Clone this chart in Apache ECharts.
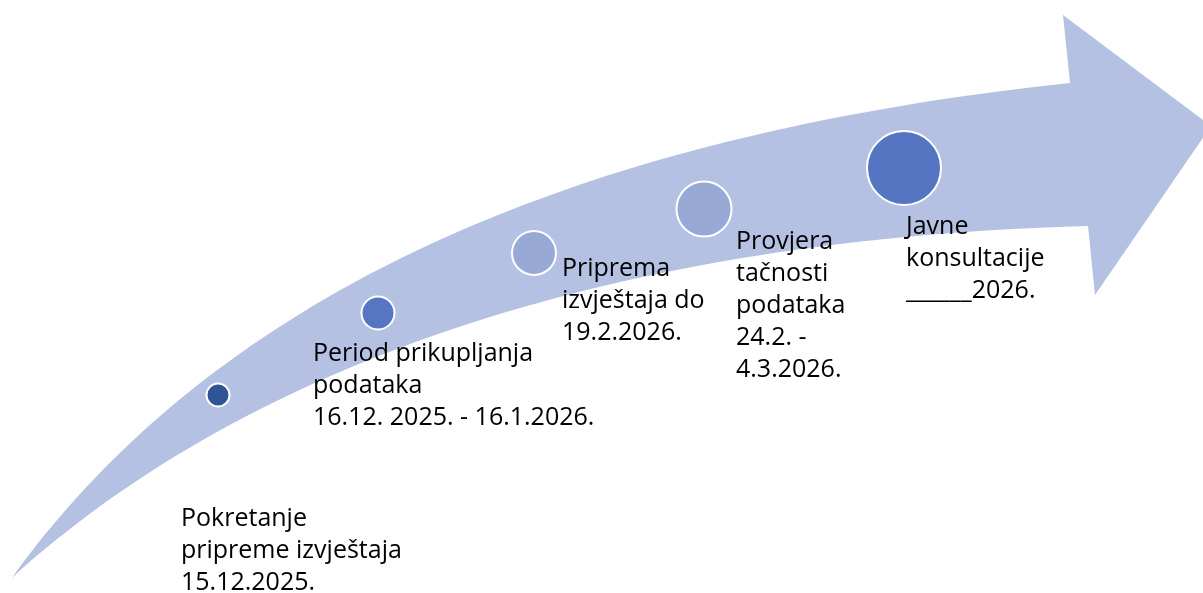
<!DOCTYPE html>
<html>
<head>
<meta charset="utf-8">
<script src="https://cdn.jsdelivr.net/npm/echarts@6/dist/echarts.min.js"></script>
<style>
  html, body { margin: 0; padding: 0; background: #fff; }
  #chart { width: 1203px; height: 593px; }
</style>
</head>
<body>
<div id="chart"></div>
<script>
// faze (koraci vremenske linije)
var faze = [
  'Pokretanje\npripreme izvještaja\n15.12.2025.',
  'Period prikupljanja\npodataka\n16.12. 2025. - 16.1.2026.',
  'Priprema\nizvještaja do\n19.2.2026.',
  'Provjera\ntačnosti\npodataka\n24.2. -\n4.3.2026.',
  'Javne\nkonsultacije\n______2026.'
];
// polozaj krugova duz strelice (x, y u koordinatama crteza)
var krugX = [218, 378, 534, 704, 904];
var krugY = [395, 313, 253, 209, 168];
var velicina = [23, 33, 44, 55, 74];
var boje = ['#2F5597', '#5676C4', '#98A9D6', '#98A9D6', '#5575C2'];
// pomak teksta u odnosu na centar kruga
var pomakTeksta = [[-37, 108], [-65, 25], [28, 0], [32, 17], [2, 43]];

// obris strelice
var gornjaIvica = [[12, 578], [220, 290], [580, 135], [1070, 83]];
var glava = [[1063, 15], [1211, 126], [1095, 295]];
var donjaIvica = [[1088, 226], [580, 240], [230, 380], [12, 578]];

var chart = echarts.init(document.getElementById('chart'));

var tacke = krugX.map(function (x, i) {
  return {
    value: [x, krugY[i]],
    symbolSize: velicina[i],
    itemStyle: { color: boje[i] },
    label: { offset: pomakTeksta[i] }
  };
});

var option = {
  animation: false,
  grid: { left: 0, right: 0, top: 0, bottom: 0 },
  xAxis: { type: 'value', min: 0, max: 1203, show: false },
  yAxis: { type: 'value', min: 0, max: 593, inverse: true, show: false },
  series: [
    {
      type: 'custom',
      silent: true,
      clip: false,
      z: 1,
      data: [[0, 0]],
      renderItem: function (params, api) {
        function p(t) { var c = api.coord(t); return c[0] + ' ' + c[1]; }
        var d = 'M' + p(gornjaIvica[0]) +
          ' C' + p(gornjaIvica[1]) + ' ' + p(gornjaIvica[2]) + ' ' + p(gornjaIvica[3]);
        glava.forEach(function (t) { d += ' L' + p(t); });
        d += ' L' + p(donjaIvica[0]) +
          ' C' + p(donjaIvica[1]) + ' ' + p(donjaIvica[2]) + ' ' + p(donjaIvica[3]) + ' Z';
        return {
          type: 'path',
          shape: { pathData: d },
          style: { fill: '#B4C1E2' }
        };
      }
    },
    {
      type: 'scatter',
      z: 5,
      symbol: 'circle',
      itemStyle: { borderColor: '#fff', borderWidth: 2, opacity: 1 },
      label: {
        show: true,
        position: 'inside',
        align: 'left',
        verticalAlign: 'top',
        color: '#000',
        fontFamily: 'Open Sans',
        fontSize: 25,
        lineHeight: 32,
        formatter: function (p) { return faze[p.dataIndex]; }
      },
      emphasis: { disabled: true },
      data: tacke
    }
  ]
};

chart.setOption(option);
</script>
</body>
</html>
